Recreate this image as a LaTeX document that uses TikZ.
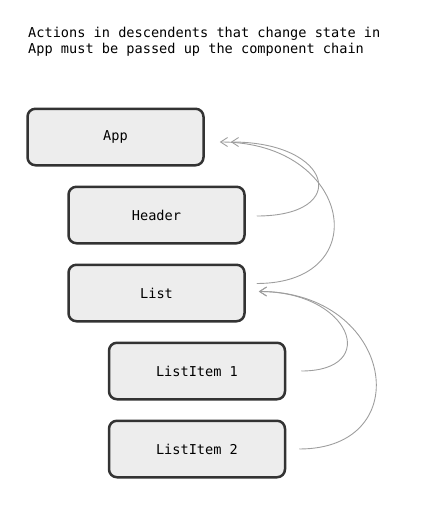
\documentclass[tikz,border=0pt]{standalone}
\usepackage{fontspec}
\setmonofont{DejaVu Sans Mono}
\usetikzlibrary{arrows.meta}

\begin{document}
\begin{tikzpicture}[x=1pt, y=-1pt, node distance=78pt, font=\ttfamily\fontsize{13.6}{16.5}\selectfont,
        comp/.style={draw=black!80, line width=2.5pt, fill=black!7, rounded corners=8pt, minimum width=176pt, minimum height=56.5pt},
        flow/.style={draw=black!38, line width=0.9pt, -{Straight Barb[length=7pt,width=9pt]}}]
        \useasboundingbox (0,0) rectangle (446,517);
        \node[anchor=north west, inner sep=0pt, align=left] (title) at (28,26.5) {Actions in descendents that change state in\\App must be passed up the component chain};

        \node[comp] (app) at (115.5,137) {App};
        \node[comp, below of=app, xshift=41pt] (header) {Header};
        \node[comp, below of=header] (list) {List};
        \node[comp, below of=list, xshift=40.5pt] (item1) {ListItem 1};
        \node[comp, below of=item1] (item2) {ListItem 2};

        \draw[flow] ([xshift=11pt,yshift=-1pt]header.east) .. controls +(95,0) and +(102,0) .. ([xshift=26pt,yshift=-5pt]app.east);
        \draw[flow] ([xshift=11pt,yshift=9.5pt]list.east) .. controls +(120,0) and +(132,0) .. ([xshift=15pt,yshift=-5pt]app.east);
        \draw[flow] ([xshift=15pt]item1.east) .. controls +(80,0) and +(92,0) .. ([xshift=13pt,yshift=1.5pt]list.east);
        \draw[flow] ([xshift=13pt]item2.east) .. controls +(120,0) and +(135,0) .. ([xshift=13pt,yshift=1.5pt]list.east);
    \end{tikzpicture}
\end{document}
